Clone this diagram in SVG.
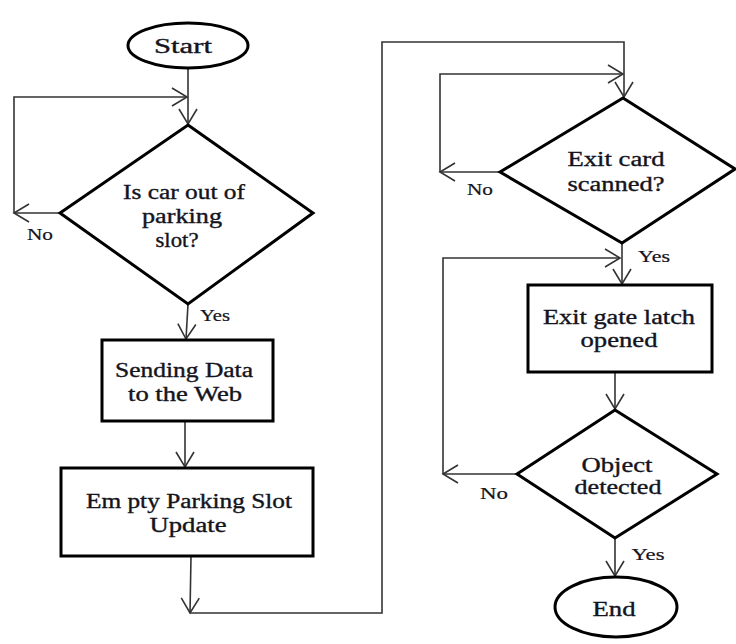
<svg xmlns="http://www.w3.org/2000/svg" width="736" height="644" viewBox="0 0 736 644">
  <defs>
    <marker id="open-arrow" viewBox="0 0 18 20" refX="16" refY="10" markerWidth="18" markerHeight="20" markerUnits="userSpaceOnUse" orient="auto">
      <path d="M1,1 L16,10 L1,19" fill="none" stroke="#333" stroke-width="1.6"/>
    </marker>
  </defs>
  <style>
    .shape { fill: #fff; stroke: #000; stroke-width: 3; }
    .conn { fill: none; stroke: #333; stroke-width: 1.6; marker-end: url(#open-arrow); }
    text { font-family: "Liberation Serif", "Times New Roman", serif; fill: #141420; stroke: #141420; stroke-width: 0.35; text-anchor: middle; }
    .main { font-size: 20px; }
    .lbl { font-size: 16px; stroke-width: 0.2; }
  </style>
  <rect width="736" height="644" fill="#fff"/>

  <!-- connectors and branch labels -->
  <g id="connectors">
    <path class="conn" d="M188,68 V124"/>
    <path class="conn" d="M14,213 V97 H187"/>
    <path class="conn" d="M60,213 H14"/>
    <path class="conn" d="M188,304 L186,339"/>
    <path class="conn" d="M185,421 V467"/>
    <path class="conn" d="M191,556 L190,613"/>
    <path class="conn" d="M190,613 H382 V42 H624 V97"/>
    <path class="conn" d="M440,172 V74 H623"/>
    <path class="conn" d="M500,172 H440"/>
    <path class="conn" d="M622,243 V284"/>
    <path class="conn" d="M443,474 V258 H620"/>
    <path class="conn" d="M517,474 H443"/>
    <path class="conn" d="M615,372 V409"/>
    <path class="conn" d="M615,538 V576"/>
    <text class="lbl" x="40" y="240" textLength="26" lengthAdjust="spacingAndGlyphs">No</text>
    <text class="lbl" x="215" y="321" textLength="30" lengthAdjust="spacingAndGlyphs">Yes</text>
    <text class="lbl" x="480" y="195" textLength="26" lengthAdjust="spacingAndGlyphs">No</text>
    <text class="lbl" x="654" y="262" textLength="32" lengthAdjust="spacingAndGlyphs">Yes</text>
    <text class="lbl" x="494" y="499" textLength="28" lengthAdjust="spacingAndGlyphs">No</text>
    <text class="lbl" x="648" y="560" textLength="33" lengthAdjust="spacingAndGlyphs">Yes</text>
  </g>

  <g id="start">
    <ellipse class="shape" cx="188" cy="45.5" rx="60" ry="22.5"/>
    <text class="main" x="183" y="53" textLength="58" lengthAdjust="spacingAndGlyphs">Start</text>
  </g>

  <g id="car-out">
    <polygon class="shape" points="188,125 313,213 188,304 60,213"/>
    <text class="main" x="184" y="199" textLength="122" lengthAdjust="spacingAndGlyphs">Is car out of</text>
    <text class="main" x="182" y="223" textLength="80" lengthAdjust="spacingAndGlyphs">parking</text>
    <text class="main" x="177" y="247" textLength="43" lengthAdjust="spacingAndGlyphs">slot?</text>
  </g>

  <g id="send-data">
    <rect class="shape" x="102" y="340" width="171" height="81"/>
    <text class="main" x="184" y="377" textLength="138" lengthAdjust="spacingAndGlyphs">Sending Data</text>
    <text class="main" x="185" y="401" textLength="114" lengthAdjust="spacingAndGlyphs">to the Web</text>
  </g>

  <g id="slot-update">
    <rect class="shape" x="61" y="468" width="252" height="88"/>
    <text class="main" x="189" y="508" textLength="206" lengthAdjust="spacingAndGlyphs">Em pty Parking Slot</text>
    <text class="main" x="188" y="532" textLength="77" lengthAdjust="spacingAndGlyphs">Update</text>
  </g>

  <g id="exit-card">
    <polygon class="shape" points="623,98 735,169 622,243 500,172"/>
    <text class="main" x="616" y="166" textLength="97" lengthAdjust="spacingAndGlyphs">Exit card</text>
    <text class="main" x="616" y="191" textLength="97" lengthAdjust="spacingAndGlyphs">scanned?</text>
  </g>

  <g id="gate-latch">
    <rect class="shape" x="528" y="285" width="184" height="87"/>
    <text class="main" x="619" y="324" textLength="152" lengthAdjust="spacingAndGlyphs">Exit gate latch</text>
    <text class="main" x="619" y="347" textLength="77" lengthAdjust="spacingAndGlyphs">opened</text>
  </g>

  <g id="object-detected">
    <polygon class="shape" points="615,410 717,474 615,538 517,474"/>
    <text class="main" x="617" y="472" textLength="71" lengthAdjust="spacingAndGlyphs">Object</text>
    <text class="main" x="618" y="494" textLength="87" lengthAdjust="spacingAndGlyphs">detected</text>
  </g>

  <g id="end">
    <ellipse class="shape" cx="616" cy="607" rx="61" ry="30"/>
    <text class="main" x="614" y="616" textLength="43" lengthAdjust="spacingAndGlyphs">End</text>
  </g>
</svg>
